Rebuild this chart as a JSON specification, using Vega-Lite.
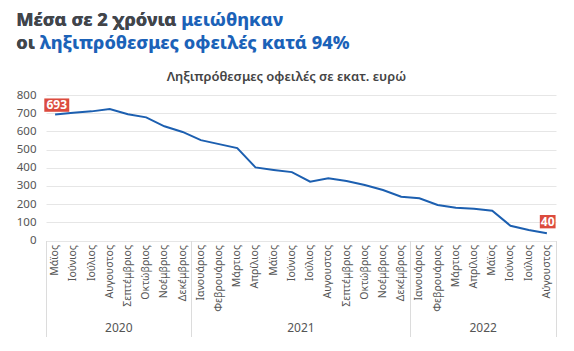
{
  "$schema": "https://vega.github.io/schema/vega-lite/v6.json",
  "background": "white",
  "padding": {"left": 16, "top": 10, "right": 5, "bottom": 5},
  "title": {
    "text": ["Μέσα σε 2 χρόνια μειώθηκαν", "οι ληξιπρόθεσμες οφειλές κατά 94%"],
    "subtitle": ["Μέσα σε 2 χρόνια", "οι"],
    "anchor": "start",
    "frame": "bounds",
    "font": "Noto Sans",
    "fontSize": 18.2,
    "fontWeight": 800,
    "lineHeight": 23,
    "color": "#1b62b8",
    "subtitleFont": "Noto Sans",
    "subtitleFontSize": 18.2,
    "subtitleFontWeight": 800,
    "subtitleLineHeight": 23,
    "subtitleColor": "#454545",
    "subtitlePadding": -41.2,
    "offset": 18
  },
  "vconcat": [
    {
      "width": 510,
      "height": 145.5,
      "title": {
        "text": "Ληξιπρόθεσμες οφειλές σε εκατ. ευρώ",
        "font": "Noto Sans",
        "fontSize": 13,
        "fontWeight": 600,
        "color": "#444444",
        "anchor": "middle",
        "frame": "bounds",
        "offset": 5
      },
      "data": {
        "values": [
          {"period": "2020-05|Μάϊος", "value": 693},
          {"period": "2020-06|Ιούνιος", "value": 702},
          {"period": "2020-07|Ιούλιος", "value": 710},
          {"period": "2020-08|Αυγουστος", "value": 723},
          {"period": "2020-09|Σεπτέμβριος", "value": 694},
          {"period": "2020-10|Οκτώβριος", "value": 677},
          {"period": "2020-11|Νοέμβριος", "value": 628},
          {"period": "2020-12|Δεκέμβριος", "value": 597},
          {"period": "2021-01|Ιανουάριος", "value": 552},
          {"period": "2021-02|Φεβρουάριος", "value": 530},
          {"period": "2021-03|Μάρτιος", "value": 508},
          {"period": "2021-04|Απρίλιος", "value": 402},
          {"period": "2021-05|Μάϊος", "value": 388},
          {"period": "2021-06|Ιούνιος", "value": 376},
          {"period": "2021-07|Ιούλιος", "value": 323},
          {"period": "2021-08|Αυγουστος", "value": 342},
          {"period": "2021-09|Σεπτέμβριος", "value": 327},
          {"period": "2021-10|Οκτώβριος", "value": 305},
          {"period": "2021-11|Νοέμβριος", "value": 278},
          {"period": "2021-12|Δεκέμβριος", "value": 241},
          {"period": "2022-01|Ιανουάριος", "value": 232},
          {"period": "2022-02|Φεβρουάριος", "value": 195},
          {"period": "2022-03|Μάρτιος", "value": 180},
          {"period": "2022-04|Απρίλιος", "value": 175},
          {"period": "2022-05|Μάϊος", "value": 164},
          {"period": "2022-06|Ιούνιος", "value": 81},
          {"period": "2022-07|Ιούλιος", "value": 58},
          {"period": "2022-08|Αύγουστος", "value": 40}
        ]
      },
      "layer": [
        {
          "mark": {"type": "line", "color": "#1c5fb0", "strokeWidth": 2},
          "encoding": {
            "x": {
              "field": "period",
              "type": "ordinal",
              "scale": {"type": "band", "paddingInner": 0, "paddingOuter": 0},
              "axis": {
                "orient": "bottom",
                "title": null,
                "labelExpr": "split(datum.value, '|')[1]",
                "labelAngle": -90,
                "labelAlign": "right",
                "labelBaseline": "middle",
                "labelPadding": 4,
                "labelOverlap": false,
                "ticks": false,
                "domain": false,
                "grid": false,
                "labelFont": "Noto Sans",
                "labelFontSize": 10.5,
                "labelColor": "#555555"
              }
            },
            "y": {
              "field": "value",
              "type": "quantitative",
              "scale": {"domain": [0, 800]},
              "axis": {
                "title": null,
                "values": [0, 100, 200, 300, 400, 500, 600, 700, 800],
                "ticks": false,
                "domain": false,
                "labelOverlap": false,
                "gridColor": "#e6e6e6",
                "labelFont": "Noto Sans",
                "labelFontSize": 11.5,
                "labelColor": "#555555",
                "labelPadding": 10
              }
            }
          }
        },
        {
          "transform": [{"filter": "datum.period == '2020-05|Μάϊος' || datum.period == '2022-08|Αύγουστος'"}],
          "mark": {"type": "point", "filled": true, "color": "#dc4b3e", "opacity": 1, "size": 178, "strokeWidth": 0},
          "encoding": {
            "x": {
              "field": "period",
              "type": "ordinal",
              "axis": {
                "orient": "bottom",
                "title": null,
                "values": ["2020-05|Μάϊος", "2020-12|Δεκέμβριος", "2021-12|Δεκέμβριος", "2022-08|Αύγουστος"],
                "bandPosition": 1,
                "tickExtra": true,
                "tickSize": 96,
                "tickColor": "#dcdcdc",
                "tickOpacity": {"condition": {"test": "datum.value == '2020-05|Μάϊος'", "value": 0}, "value": 1},
                "tickWidth": 1,
                "labels": false,
                "domain": false,
                "grid": false
              }
            },
            "y": {
              "field": "value",
              "type": "quantitative",
              "axis": {
                "title": null,
                "values": [0, 100, 200, 300, 400, 500, 600, 700, 800],
                "ticks": false,
                "domain": false,
                "labelOverlap": false,
                "gridColor": "#e6e6e6",
                "labelFont": "Noto Sans",
                "labelFontSize": 11.5,
                "labelColor": "#555555",
                "labelPadding": 10
              }
            },
            "shape": {
              "condition": {"test": "datum.value < 100", "value": "M-1.06,-2.73L1.3,-2.73L1.3,-0.73L-1.06,-0.73Z"},
              "value": "M-1.62,-2.4L2.12,-2.4L2.12,-0.4L-1.62,-0.4Z"
            }
          }
        },
        {
          "transform": [{"filter": "datum.period == '2020-05|Μάϊος' || datum.period == '2022-08|Αύγουστος'"}],
          "mark": {
            "type": "text",
            "color": "white",
            "font": "Noto Sans",
            "fontWeight": "bold",
            "fontSize": 12,
            "align": "center",
            "baseline": "middle",
            "dx": {"expr": "datum.value < 100 ? 0.8 : 1.7"},
            "dy": {"expr": "datum.value < 100 ? -11.5 : -9.4"}
          },
          "encoding": {
            "x": {
              "field": "period",
              "type": "ordinal",
              "axis": {
                "orient": "bottom",
                "title": null,
                "values": ["2020-08|Αυγουστος", "2021-06|Ιούνιος", "2022-04|Απρίλιος"],
                "labelOffset": 9.1,
                "labelExpr": "substring(datum.value, 0, 4)",
                "labelAngle": 0,
                "labelAlign": "center",
                "labelBaseline": "top",
                "labelPadding": 82,
                "ticks": false,
                "domain": false,
                "grid": false,
                "labelFont": "Noto Sans",
                "labelFontSize": 12,
                "labelColor": "#555555"
              }
            },
            "y": {
              "field": "value",
              "type": "quantitative",
              "axis": {
                "title": null,
                "values": [0, 100, 200, 300, 400, 500, 600, 700, 800],
                "ticks": false,
                "domain": false,
                "labelOverlap": false,
                "gridColor": "#e6e6e6",
                "labelFont": "Noto Sans",
                "labelFontSize": 11.5,
                "labelColor": "#555555",
                "labelPadding": 10
              }
            },
            "text": {"field": "value", "type": "quantitative"}
          }
        }
      ],
      "resolve": {"axis": {"x": "independent"}}
    }
  ],
  "config": {"view": {"stroke": null}, "concat": {"spacing": 0}}
}
